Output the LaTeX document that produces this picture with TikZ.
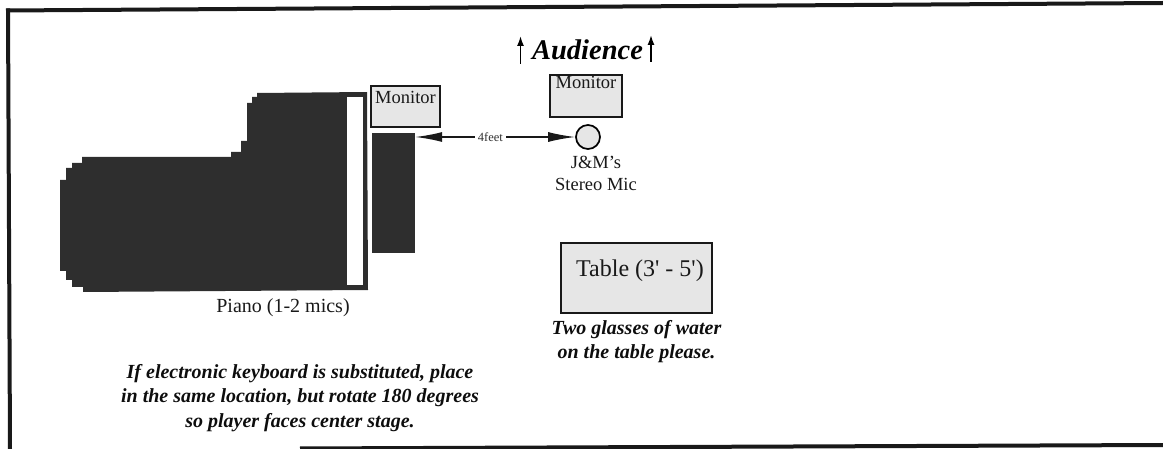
\documentclass[tikz,border=0pt]{standalone}
\usepackage{fontspec}
\setmainfont{Liberation Serif}
\usetikzlibrary{arrows.meta,positioning}
\definecolor{pianoblack}{HTML}{2E2E2E}
\definecolor{boxgray}{HTML}{E6E6E6}
\tikzset{
    frame line/.style = {
        draw=black!90,
        line width=4pt,
        },
    piano body/.style = {
        fill = pianoblack,
        },
    bench/.style = {
        fill = pianoblack,
        inner sep=0pt,
        minimum width=43pt,
        minimum height=120pt,
        },
    keys/.style = {
        fill = white,
        inner sep=0pt,
        minimum width=16pt,
        minimum height=188pt,
        },
    gray box/.style = {
        draw=black!90,
        line width=1.5pt,
        fill = boxgray,
        inner sep=0pt,
        },
    mic/.style = {
        draw=black,
        line width=1.7pt,
        circle,
        fill = boxgray,
        inner sep=0pt,
        minimum size=24pt,
        },
    plain/.style = {
        font=\fontsize{18.5}{22}\selectfont,
        align=center,
        inner sep=0pt,
        text=black!90,
        },
    note/.style = {
        font=\fontsize{20}{24.5}\selectfont\bfseries\itshape,
        align=center,
        inner sep=0pt,
        text=black!95,
        },
    dist/.style = {
        draw=black!90,
        line width=1.5pt,
        {Latex[length=27pt,width=10pt]}-{Latex[length=27pt,width=10pt]},
        },
    up/.style = {
        draw=black,
        line width=1.6pt,
        -{Latex[length=10pt,width=7pt]},
        },
}
\begin{document}
\begin{tikzpicture}[x=1pt,y=-1pt]
    \useasboundingbox (0,0) rectangle (1163,449);
    % page frame
    \path[frame line] (6,10.5) -- (1163,3);
    \path[frame line] (8,8.5) -- (10,449);
    \path[frame line] (300,448.5) -- (1163,445);

    % piano
    \path[piano body] (257,93) -- (367,92) -- (368,290) -- (83,292) -- (83,287) -- (72,287)
        -- (72,280) -- (66,280) -- (66,271) -- (60,271) -- (60,180) -- (66,180) -- (66,168)
        -- (72,168) -- (72,163) -- (82,163) -- (82,157) -- (231,157) -- (231,152) -- (241,152)
        -- (241,141) -- (247,141) -- (247,103) -- (252,103) -- (252,97) -- (257,97) -- cycle;
    \node[keys] (keys) at (355,191) {};
    \node[bench] (bench) at (393.5,193) {};
    \node[plain, font=\fontsize{20}{24}\selectfont] (pianolabel) at (283,308) {Piano (1-2 mics)};

    % monitors
    \node[gray box, minimum width=69pt, minimum height=41pt,
        label={[plain, name=monitorlefttext, anchor=north, yshift=-6pt]north:Monitor}] (monitorleft) at (405.5,106.5) {};
    \node[gray box, minimum width=72pt, minimum height=42pt,
        label={[plain, name=monitorfronttext, anchor=north, yshift=-2pt]north:Monitor}] (monitorfront) at (586,96) {};

    % mic
    \node[mic] (stereomic) at (588,137) {};
    \node[plain, below=6pt of stereomic, xshift=8pt] (miclabel) {J\&M’s\\Stereo Mic};

    \coordinate (benchside) at (bench.east |- stereomic);
    \path (benchside) edge[dist] node[fill=white, inner xsep=3pt, inner ysep=1pt, text=black!80,
        font=\fontsize{12.5}{13}\selectfont, pos=0.47] {4feet} (stereomic);

    % audience
    \node[font=\fontsize{28.5}{30}\selectfont\bfseries\itshape, inner sep=0pt] (audience) at (587.5,50) {Audience};
    \coordinate (arrowfootl) at (520.5,64);
    \coordinate (arrowtipl) at (520.5,36);
    \coordinate (arrowfootr) at (651,62);
    \coordinate (arrowtipr) at (651,35);
    \path (arrowfootl) edge[up] (arrowtipl);
    \path (arrowfootr) edge[up] (arrowtipr);

    % table
    \node[gray box, minimum width=151pt, minimum height=70pt] (tablebox) at (636.5,278) {};
    \node[plain, font=\fontsize{24}{26}\selectfont] (tablelabel) at (640,271) {Table (3\textquotesingle{} - 5\textquotesingle)};
    \node[note, below=6pt of tablebox] (tablenote) {Two glasses of water\\on the table please.};

    \node[note] (keyboardnote) at (300,398) {If electronic keyboard is substituted, place\\in the same location, but rotate 180 degrees\\so player faces center stage.};
\end{tikzpicture}
\end{document}
